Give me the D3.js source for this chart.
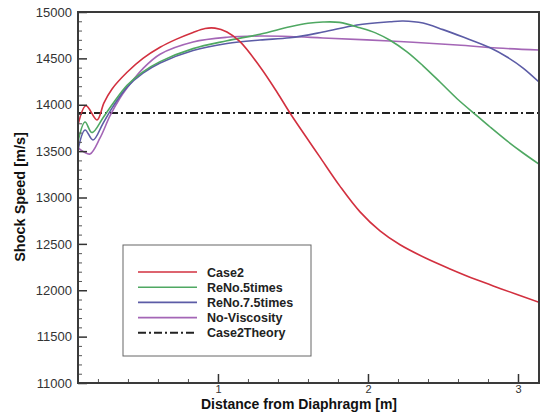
<!DOCTYPE html>
<html>
<head>
<meta charset="utf-8">
<script src="https://cdn.jsdelivr.net/npm/d3@7/dist/d3.min.js"></script>
<style>
  html, body { margin: 0; padding: 0; background: #fff; }
  svg { display: block; font-family: "Liberation Sans", Arial, sans-serif; }
</style>
</head>
<body>
<svg id="chart" width="541" height="415"></svg>
<script>
// Shock speed along the tube, per case: [distance m, speed m/s]
const case2 = [
  [0.067, 13782], [0.12, 13990], [0.194, 13836], [0.24, 14020], [0.294, 14170],
  [0.394, 14350], [0.5, 14500], [0.614, 14620], [0.72, 14705], [0.834, 14780],
  [0.914, 14822], [0.98, 14826], [1.06, 14785], [1.147, 14680], [1.28, 14410],
  [1.394, 14135], [1.48, 13911], [1.614, 13590], [1.68, 13435], [1.814, 13120],
  [1.947, 12845], [2.08, 12640], [2.214, 12490], [2.38, 12350], [2.547, 12230],
  [2.72, 12115], [2.88, 12020], [3.14, 11870]
];
const reNo5 = [
  [0.067, 13600], [0.114, 13814], [0.16, 13700], [0.234, 13860], [0.294, 14000],
  [0.394, 14210], [0.5, 14355], [0.614, 14465], [0.834, 14605], [1.06, 14690],
  [1.28, 14760], [1.48, 14840], [1.6, 14878], [1.7, 14892], [1.81, 14888],
  [1.947, 14830], [2.05, 14775], [2.147, 14695], [2.26, 14570], [2.367, 14420],
  [2.48, 14245], [2.594, 14065], [2.727, 13880], [2.814, 13760], [2.927, 13610],
  [3.034, 13480], [3.14, 13360]
];
const reNo75 = [
  [0.067, 13512], [0.114, 13728], [0.167, 13620], [0.234, 13800], [0.3, 13980],
  [0.394, 14190], [0.5, 14340], [0.614, 14450], [0.834, 14585], [1.06, 14660],
  [1.28, 14698], [1.48, 14722], [1.7, 14784], [1.927, 14860], [2.147, 14895],
  [2.234, 14903], [2.367, 14881], [2.5, 14810], [2.634, 14730], [2.814, 14615],
  [2.927, 14515], [3.034, 14396], [3.14, 14245]
];
const noViscosity = [
  [0.067, 13534], [0.107, 13491], [0.147, 13469], [0.214, 13642], [0.28, 13879],
  [0.347, 14073], [0.414, 14224], [0.5, 14390], [0.614, 14545], [0.834, 14677],
  [1.06, 14728], [1.28, 14741], [1.48, 14736], [1.7, 14720], [2.147, 14687],
  [2.594, 14644], [2.86, 14612], [3.14, 14590]
];
const theorySpeed = 13910;

const seriesNames = ["Case2", "ReNo.5times", "ReNo.7.5times", "No-Viscosity", "Case2Theory"];
const seriesColors = ["#d2303f", "#4fa862", "#5c5ca6", "#a466b6", "#222222"];
const xTicks = [1, 2, 3];
const yTicks = [11000, 11500, 12000, 12500, 13000, 13500, 14000, 14500, 15000];

const svg = d3.select("#chart");
const plotLeft = 78, plotRight = 539, plotTop = 12, plotBottom = 383;

const x = d3.scaleLinear().domain([0.067, 3.14]).range([plotLeft, plotRight]);
const y = d3.scaleLinear().domain([11000, 15000]).range([plotBottom, plotTop]);

const plot = svg.append("g");
plot.append("clipPath").attr("id", "clip")
  .append("rect").attr("x", plotLeft).attr("y", plotTop)
  .attr("width", plotRight - plotLeft).attr("height", plotBottom - plotTop);

const line = d3.line()
  .x(d => x(d[0])).y(d => y(d[1]))
  .curve(d3.curveCatmullRom.alpha(0.5));

const curves = [case2, reNo5, reNo75, noViscosity];
const lines = plot.append("g").attr("clip-path", "url(#clip)");

// Theory line: dash-dot across the full domain
lines.append("path")
  .attr("d", line([[x.domain()[0], theorySpeed], [x.domain()[1], theorySpeed]]))
  .attr("fill", "none").attr("stroke", seriesColors[4])
  .attr("stroke-width", 2).attr("stroke-dasharray", "8,3,2,3");

// Draw in reverse so Case2 sits on top
curves.slice().reverse().forEach((data, i) => {
  const idx = curves.length - 1 - i;
  lines.append("path")
    .attr("d", line(data))
    .attr("fill", "none")
    .attr("stroke", seriesColors[idx])
    .attr("stroke-width", 1.6);
});

// Axes (ticks point inward)
const tickColor = "#333";
const yMinor = d3.range(11000, 15001, 100).filter(v => v % 500 !== 0);
const xMinor = d3.range(0.2, 3.15, 0.2).filter(v => Math.abs(v - Math.round(v)) > 0.01);

const yAxis = d3.axisLeft(y).tickValues(yTicks).tickSize(-9).tickPadding(6)
  .tickFormat(d3.format("d"));
const gy = svg.append("g").attr("transform", `translate(${plotLeft},0)`).call(yAxis);
gy.select(".domain").remove();
gy.selectAll("line").attr("stroke", tickColor).attr("stroke-width", 1.5);
gy.selectAll("text").attr("font-size", 13).attr("fill", "#333").attr("x", -6);

const gyMinor = svg.append("g").attr("transform", `translate(${plotLeft},0)`)
  .call(d3.axisLeft(y).tickValues(yMinor).tickSize(-4).tickFormat(""));
gyMinor.select(".domain").remove();
gyMinor.selectAll("line").attr("stroke", "#555").attr("stroke-width", 1);

const xAxis = d3.axisBottom(x).tickValues(xTicks).tickSize(-9).tickPadding(2)
  .tickFormat(d3.format("d"));
const gx = svg.append("g").attr("transform", `translate(0,${plotBottom})`).call(xAxis);
gx.select(".domain").remove();
gx.selectAll("line").attr("stroke", tickColor).attr("stroke-width", 1.5);
gx.selectAll("text").attr("font-size", 11).attr("fill", "#333").attr("y", 2);

const gxMinor = svg.append("g").attr("transform", `translate(0,${plotBottom})`)
  .call(d3.axisBottom(x).tickValues(xMinor).tickSize(-4).tickFormat(""));
gxMinor.select(".domain").remove();
gxMinor.selectAll("line").attr("stroke", "#555").attr("stroke-width", 1);

// Frame
svg.append("rect")
  .attr("x", plotLeft).attr("y", plotTop)
  .attr("width", plotRight - plotLeft).attr("height", plotBottom - plotTop)
  .attr("fill", "none").attr("stroke", "#3a3a3a").attr("stroke-width", 2);

// Axis titles
svg.append("text")
  .attr("x", 299).attr("y", 409)
  .attr("text-anchor", "middle")
  .attr("font-size", 14).attr("font-weight", "bold").attr("fill", "#111")
  .text("Distance from Diaphragm [m]");

svg.append("text")
  .attr("transform", "translate(25,197) rotate(-90)")
  .attr("text-anchor", "middle")
  .attr("font-size", 14.5).attr("font-weight", "bold").attr("fill", "#111")
  .text("Shock Speed [m/s]");

// Legend
const legend = svg.append("g");
legend.append("rect")
  .attr("x", 123).attr("y", 245).attr("width", 188).attr("height", 111)
  .attr("fill", "#fff").attr("stroke", "#666").attr("stroke-width", 1);

seriesNames.forEach((name, i) => {
  const ly = 272 + i * 15.2;
  legend.append("line")
    .attr("x1", 138).attr("x2", 197).attr("y1", ly).attr("y2", ly)
    .attr("stroke", seriesColors[i])
    .attr("stroke-width", i === 4 ? 2 : 1.6)
    .attr("stroke-dasharray", i === 4 ? "8,3,2,3" : null);
  legend.append("text")
    .attr("x", 207).attr("y", ly + 4.5)
    .attr("font-size", 12.5).attr("font-weight", "bold").attr("fill", "#222")
    .text(name);
});
</script>
</body>
</html>
